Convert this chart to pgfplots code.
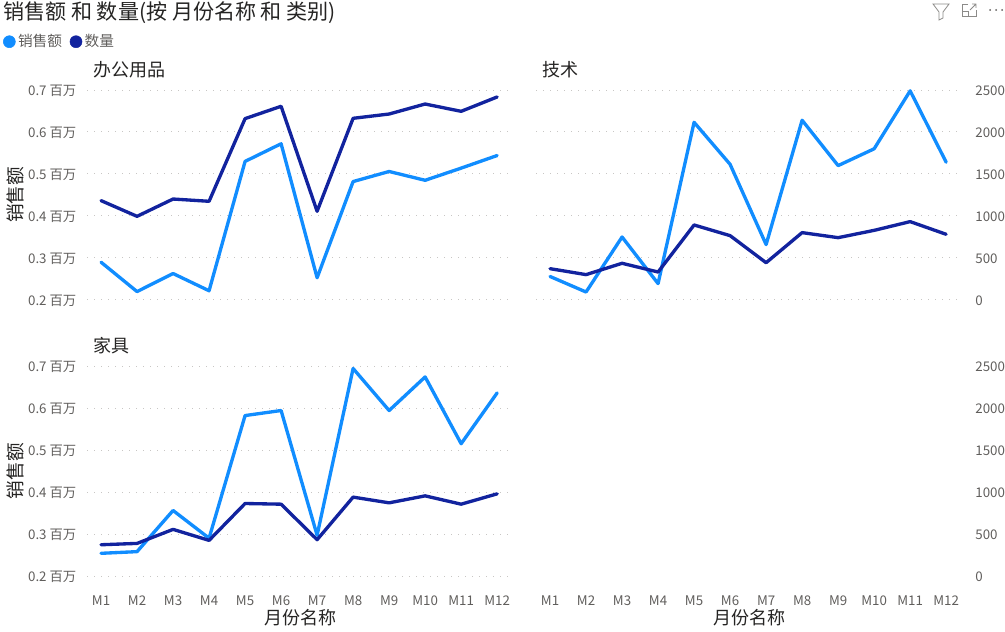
\documentclass[border=0pt]{standalone}
\usepackage{fontspec}
\setmainfont{Noto Sans CJK SC}
\usepackage{pgfplots}
\pgfplotsset{compat=1.18}
\definecolor{sales}{HTML}{118DFF}
\definecolor{qty}{HTML}{12239E}
\definecolor{gridc}{HTML}{C8C6C4}
\definecolor{tickc}{HTML}{605E5C}
\definecolor{titlec}{HTML}{252423}
\newcommand{\fs}[1]{\fontsize{#1}{#1}\selectfont}
\pgfplotsset{
 panel/.style={
  scale only axis, width=319.5pt, height=157.5pt,
  xmin=-0.39, xmax=11.44,
  axis line style={draw=none}, tick style={draw=none},
  clip=false,
  /pgf/number format/assume math mode=true,
  tick label style={font=\fs{10}, text=tickc},
  title style={font=\fs{13.5}, text=titlec, anchor=west, inner sep=0pt, at={(axis description cs:0.014,1.06)}},
  xlabel style={font=\fs{13.5}, text=titlec, at={(axis description cs:0.5,-0.2)}, anchor=center},
  ylabel style={font=\fs{14}, text=titlec, at={(axis description cs:-0.167,0.5)}, anchor=center, rotate=0},
  xtick={0,...,11},
  xticklabels={M1,M2,M3,M4,M5,M6,M7,M8,M9,M10,M11,M12},
  x tick label style={yshift=-11.5pt},
 },
 left/.style={panel, ymin=0.2, ymax=0.7, ytick={0.2,0.3,0.4,0.5,0.6,0.7},
  yticklabels={0.2 百万,0.3 百万,0.4 百万,0.5 百万,0.6 百万,0.7 百万},
  ymajorgrids, grid style={gridc, line width=0.75pt, dash pattern=on 0.75pt off 4.5pt},
  y tick label style={xshift=-4.5pt, yshift=-0.8pt},
 },
 right/.style={panel, ymin=0, ymax=2500, ytick={0,500,1000,1500,2000,2500},
  yticklabel pos=right, y tick label style={anchor=west, xshift=6.5pt, yshift=-0.8pt},
  scaled y ticks=false, /pgf/number format/.cd, 1000 sep={}, /pgfplots/.cd,
 },
 ser/.style={line width=2.5pt, line join=round, line cap=round, no marks},
}
\begin{document}
\begin{tikzpicture}[x=0.75pt,y=0.75pt]
\path[use as bounding box] (0,0) rectangle (1005,631);
\node[anchor=west,font=\fs{15.8},text=titlec,inner sep=0pt] at (3,618) {销售额 和 数量(按 月份名称 和 类别)};

% top-left
\begin{axis}[left, at={(65.25pt,248.25pt)}, title={办公用品}, ylabel={销售额}, xticklabels={},
  legend style={at={(axis description cs:-0.197,1.23)}, anchor=west, draw=none, fill=none, font=\fs{11}, text=tickc, legend columns=2, inner sep=0pt, /tikz/every even column/.append style={column sep=4pt}},
  legend cell align=left]
\addlegendimage{only marks, mark=*, mark size=4.5pt, color=sales}
\addlegendentry{销售额}
\addlegendimage{only marks, mark=*, mark size=4.5pt, color=qty}
\addlegendentry{数量}
\addplot[ser, sales] coordinates {(0,0.290)(1,0.220)(2,0.263)(3,0.222)(4,0.530)(5,0.572)(6,0.253)(7,0.482)(8,0.506)(9,0.485)(10,0.514)(11,0.544)};
\end{axis}
\begin{axis}[panel, at={(65.25pt,248.25pt)}, ymin=0, ymax=2500, ytick=\empty, xtick=\empty]
\addplot[ser, qty] coordinates {(0,1183)(1,996)(2,1202)(3,1175)(4,2159)(5,2306)(6,1056)(7,2163)(8,2214)(9,2333)(10,2246)(11,2417)};
\end{axis}

% top-right
\begin{axis}[left, at={(402pt,248.25pt)}, title={技术}, yticklabels={}, xticklabels={}]
\addplot[ser, sales] coordinates {(0,0.256)(1,0.219)(2,0.350)(3,0.239)(4,0.623)(5,0.523)(6,0.332)(7,0.628)(8,0.520)(9,0.560)(10,0.698)(11,0.528)};
\end{axis}
\begin{axis}[right, at={(402pt,248.25pt)}, xtick=\empty]
\addplot[ser, qty] coordinates {(0,373)(1,302)(2,437)(3,333)(4,893)(5,766)(6,444)(7,802)(8,742)(9,829)(10,933)(11,782)};
\end{axis}

% bottom-left
\begin{axis}[left, at={(65.25pt,41.25pt)}, title={家具}, ylabel={销售额}, xlabel={月份名称}]
\addplot[ser, sales] coordinates {(0,0.254)(1,0.258)(2,0.356)(3,0.290)(4,0.582)(5,0.594)(6,0.297)(7,0.694)(8,0.594)(9,0.674)(10,0.515)(11,0.636)};
\end{axis}
\begin{axis}[panel, at={(65.25pt,41.25pt)}, ymin=0, ymax=2500, ytick=\empty, xtick=\empty]
\addplot[ser, qty] coordinates {(0,372)(1,388)(2,555)(3,424)(4,863)(5,855)(6,432)(7,939)(8,871)(9,954)(10,855)(11,978)};
\end{axis}

% bottom-right (empty panel)
\begin{axis}[right, at={(402pt,41.25pt)}, xlabel={月份名称}]
\end{axis}

% header icons
\draw[gridc!70!black, line width=0.6pt] (933,627) -- (949,627) -- (943,619) -- (943,613) -- (939,611) -- (939,619) -- cycle;
\draw[gridc!70!black, line width=0.6pt] (968,627) -- (962,627) -- (962,615) -- (976,615) -- (976,621);
\draw[gridc!70!black, line width=0.6pt] (962,620) -- (968,620) -- (968,615);
\draw[gridc!70!black, line width=0.6pt] (970,621) -- (976,627) (972,627) -- (976,627) -- (976,623);
\fill[tickc] (990,621) circle (1) (996,621) circle (1) (1002,621) circle (1);
\end{tikzpicture}
\end{document}
